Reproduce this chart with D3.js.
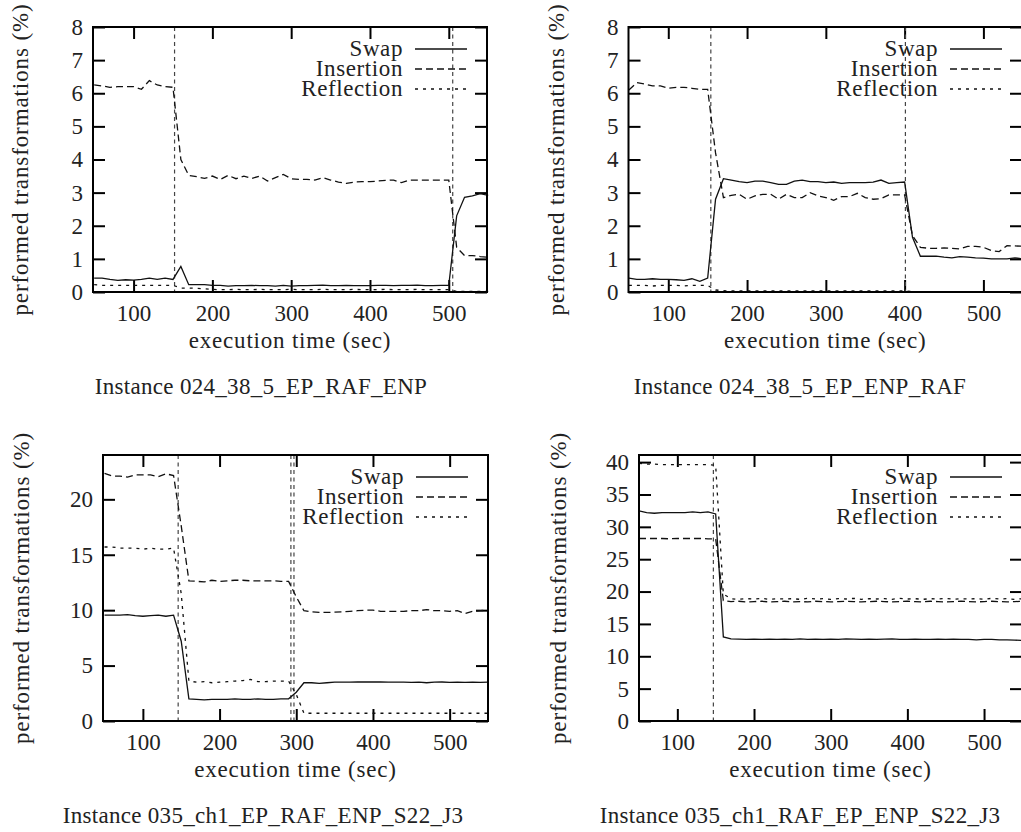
<!DOCTYPE html>
<html>
<head>
<meta charset="utf-8">
<script src="https://cdn.jsdelivr.net/npm/d3@7"></script>
<style>
body{margin:0;background:#fff}
svg{display:block;background:#fff}
</style>
</head>
<body>
<svg id="chart"></svg>
<script>
const width=1021;
const height=832;
const FONT="'Liberation Serif'";

// sample times (sec)
const times=[50,60,70,80,90,100,110,120,130,140,150,160,170,180,190,200,210,220,230,240,250,260,270,280,290,300,310,320,330,340,350,360,370,380,390,400,410,420,430,440,450,460,470,480,490,500,510,520,530,540,550];

const seriesNames=['Swap','Insertion','Reflection'];
const xTicks=[100,200,300,400,500];
const yTicksA=[0,1,2,3,4,5,6,7,8];
const yTicksB=[0,5,10,15,20];
const yTicksC=[0,5,10,15,20,25,30,35,40];
const captions=['Instance 024_38_5_EP_RAF_ENP','Instance 024_38_5_EP_ENP_RAF','Instance 035_ch1_EP_RAF_ENP_S22_J3','Instance 035_ch1_RAF_EP_ENP_S22_J3'];

// phase switches (vertical dashed lines)
const phases1=[152,505];
const phases2=[154,401];
const phases3=[146,293,297];
const phases4=[147];

// instance 024_38_5_EP_RAF_ENP
const swap1=[0.42,0.42,0.38,0.35,0.37,0.36,0.38,0.42,0.38,0.42,0.38,0.77,0.22,0.22,0.22,0.20,0.20,0.18,0.19,0.19,0.20,0.19,0.19,0.18,0.20,0.18,0.19,0.19,0.20,0.21,0.19,0.19,0.20,0.19,0.19,0.19,0.20,0.20,0.19,0.20,0.20,0.21,0.19,0.19,0.20,0.20,2.30,2.86,2.90,2.97,2.92];
const ins1=[6.25,6.22,6.18,6.20,6.20,6.20,6.12,6.38,6.25,6.20,6.18,4.00,3.52,3.48,3.43,3.50,3.40,3.52,3.42,3.50,3.43,3.50,3.35,3.45,3.55,3.42,3.40,3.40,3.38,3.45,3.38,3.32,3.28,3.32,3.33,3.33,3.35,3.37,3.38,3.30,3.38,3.38,3.38,3.38,3.38,3.38,1.35,1.10,1.10,1.07,1.05];
const refl1=[0.22,0.20,0.20,0.20,0.20,0.20,0.20,0.20,0.20,0.20,0.20,0.12,0.12,0.11,0.10,0.08,0.07,0.07,0.08,0.07,0.07,0.08,0.07,0.07,0.07,0.08,0.07,0.07,0.07,0.08,0.07,0.07,0.07,0.08,0.07,0.07,0.07,0.08,0.07,0.07,0.07,0.08,0.07,0.07,0.07,0.07,0.02,0.02,0.02,0.02,0.02];

// instance 024_38_5_EP_ENP_RAF
const swap2=[0.42,0.38,0.38,0.40,0.38,0.38,0.37,0.35,0.40,0.32,0.42,2.80,3.42,3.38,3.33,3.30,3.35,3.35,3.30,3.25,3.25,3.35,3.38,3.33,3.33,3.30,3.32,3.28,3.30,3.30,3.30,3.32,3.38,3.28,3.30,3.32,1.65,1.08,1.08,1.08,1.05,1.03,1.07,1.05,1.03,1.02,1.00,1.00,1.00,1.03,1.00];
const ins2=[6.10,6.32,6.28,6.22,6.22,6.15,6.18,6.18,6.15,6.12,6.12,4.20,2.85,2.92,2.95,2.80,2.90,2.95,2.95,2.80,2.95,2.85,2.85,3.00,2.90,2.85,2.77,2.88,2.88,2.98,2.85,2.80,2.82,2.93,2.93,2.93,1.70,1.35,1.32,1.32,1.33,1.32,1.30,1.38,1.38,1.35,1.25,1.22,1.40,1.39,1.38];
const refl2=[0.20,0.20,0.20,0.18,0.20,0.20,0.20,0.18,0.20,0.20,0.20,0.06,0.04,0.03,0.03,0.03,0.03,0.03,0.03,0.03,0.03,0.03,0.03,0.03,0.03,0.03,0.03,0.03,0.03,0.03,0.03,0.03,0.03,0.03,0.03,0.03,0.01,0.01,0.01,0.01,0.01,0.01,0.01,0.01,0.01,0.01,0.01,0.01,0.01,0.01,0.01];

// instance 035_ch1_EP_RAF_ENP_S22_J3
const swap3=[9.55,9.55,9.55,9.60,9.50,9.45,9.50,9.55,9.45,9.55,7.20,2.00,1.95,1.90,1.95,1.95,1.95,2.00,1.95,1.95,2.00,1.95,1.95,2.00,2.00,2.60,3.45,3.45,3.40,3.45,3.50,3.50,3.50,3.52,3.52,3.52,3.52,3.50,3.50,3.50,3.48,3.50,3.45,3.50,3.52,3.48,3.50,3.48,3.50,3.48,3.50];
const ins3=[22.35,22.10,22.10,22.00,22.20,22.20,22.20,22.05,22.30,22.15,17.60,12.65,12.60,12.55,12.70,12.60,12.65,12.70,12.70,12.65,12.65,12.65,12.65,12.60,12.60,11.20,9.95,9.85,9.80,9.80,9.82,9.85,9.90,9.95,10.00,10.00,9.90,9.90,9.90,9.90,9.95,9.95,10.05,9.95,9.95,9.90,9.95,9.70,9.90,9.95,10.00];
const refl3=[15.70,15.70,15.60,15.60,15.60,15.50,15.60,15.50,15.50,15.60,11.50,3.60,3.50,3.55,3.45,3.50,3.55,3.60,3.65,3.75,3.55,3.55,3.60,3.60,3.60,2.40,0.70,0.70,0.70,0.70,0.70,0.70,0.70,0.70,0.70,0.70,0.70,0.70,0.70,0.70,0.70,0.70,0.70,0.70,0.70,0.70,0.70,0.70,0.70,0.70,0.70];

// instance 035_ch1_RAF_EP_ENP_S22_J3
const swap4=[32.45,32.20,32.10,32.20,32.20,32.20,32.20,32.30,32.20,32.30,32.00,13.00,12.70,12.65,12.60,12.65,12.60,12.65,12.60,12.65,12.60,12.70,12.60,12.65,12.60,12.65,12.60,12.70,12.65,12.60,12.65,12.60,12.65,12.70,12.60,12.60,12.65,12.60,12.60,12.65,12.60,12.65,12.60,12.60,12.55,12.60,12.60,12.55,12.55,12.50,12.45];
const ins4=[28.20,28.20,28.20,28.20,28.15,28.20,28.20,28.20,28.20,28.15,28.15,18.60,18.45,18.50,18.40,18.45,18.50,18.40,18.45,18.50,18.40,18.45,18.40,18.50,18.45,18.40,18.45,18.50,18.45,18.40,18.45,18.50,18.45,18.40,18.45,18.50,18.45,18.40,18.50,18.45,18.40,18.45,18.50,18.45,18.40,18.45,18.50,18.45,18.40,18.45,18.50];
const refl4=[39.80,39.70,39.70,39.60,39.60,39.60,39.60,39.60,39.60,39.60,39.50,19.60,18.90,18.80,18.90,18.85,18.95,18.80,18.90,18.85,18.90,18.80,18.95,18.85,18.90,18.80,18.90,18.85,18.95,18.80,18.90,18.85,18.90,18.80,18.95,18.85,18.90,18.80,18.90,18.85,18.95,18.80,18.90,18.85,18.90,18.80,18.95,18.85,18.90,18.80,18.90];

const dashes=[null,'7,4','3,5'];

const panels=[
  {left:93,right:487,top:27,bottom:292,xDomain:[48.5,548.5],yMax:8,yTicks:yTicksA,series:[swap1,ins1,refl1],phases:phases1,caption:captions[0],capX:261,ylabX:28},
  {left:628.5,right:1022,top:27,bottom:292,xDomain:[49.5,549],yMax:8,yTicks:yTicksA,series:[swap2,ins2,refl2],phases:phases2,caption:captions[1],capX:800,ylabX:564},
  {left:103,right:488,top:455,bottom:721,xDomain:[48,550],yMax:24,yTicks:yTicksB,series:[swap3,ins3,refl3],phases:phases3,caption:captions[2],capX:263,ylabX:29},
  {left:639,right:1022,top:455,bottom:721,xDomain:[50,549.5],yMax:41.1,yTicks:yTicksC,series:[swap4,ins4,refl4],phases:phases4,caption:captions[3],capX:800,ylabX:566}
];

const svg=d3.select('#chart')
  .attr('width',width)
  .attr('height',height);

svg.append('rect').attr('width',width).attr('height',height).attr('fill','#fff');

function label(sel){
  return sel.style('font-family',FONT).style('font-size','23px').attr('fill','#222');
}

function drawPanel(p){
  const g=svg.append('g');
  const x=d3.scaleLinear().domain(p.xDomain).range([p.left,p.right]);
  const y=d3.scaleLinear().domain([0,p.yMax]).range([p.bottom,p.top]);

  // axes, ticks pointing inward, mirrored on top/right
  const bottomAxis=g.append('g').attr('transform','translate(0,'+p.bottom+')')
    .call(d3.axisBottom(x).tickValues(xTicks).tickSize(-12).tickSizeOuter(0).tickPadding(13));
  const topAxis=g.append('g').attr('transform','translate(0,'+p.top+')')
    .call(d3.axisTop(x).tickValues(xTicks).tickSize(-12).tickSizeOuter(0).tickFormat(''));
  const leftAxis=g.append('g').attr('transform','translate('+p.left+',0)')
    .call(d3.axisLeft(y).tickValues(p.yTicks).tickSize(-12).tickSizeOuter(0).tickPadding(10));
  const rightAxis=g.append('g').attr('transform','translate('+p.right+',0)')
    .call(d3.axisRight(y).tickValues(p.yTicks).tickSize(-12).tickSizeOuter(0).tickFormat(''));

  [bottomAxis,topAxis,leftAxis,rightAxis].forEach(a=>{
    a.select('.domain').remove();
    a.selectAll('line').attr('stroke','#000').attr('stroke-width',2);
    label(a.selectAll('text'));
  });

  // phase switches
  g.selectAll('.phase').data(p.phases).enter().append('line')
    .attr('class','phase')
    .attr('x1',d=>x(d)).attr('x2',d=>x(d))
    .attr('y1',p.top).attr('y2',p.bottom)
    .attr('stroke','#444').attr('stroke-width',1.2)
    .attr('stroke-dasharray','4,3.5');

  const line=d3.line().x((d,i)=>x(times[i])).y(d=>y(d));

  p.series.forEach((vals,k)=>{
    g.append('path').datum(vals)
      .attr('d',line)
      .attr('fill','none')
      .attr('stroke','#111')
      .attr('stroke-width',1.3)
      .attr('stroke-dasharray',dashes[k]);
  });

  // legend
  const leg=g.selectAll('.leg').data(seriesNames).enter().append('g')
    .attr('class','leg')
    .attr('transform',(d,i)=>'translate(0,'+(p.top+22+i*20)+')');
  label(leg.append('text'))
    .attr('x',p.right-84).attr('y',7)
    .attr('text-anchor','end')
    .style('letter-spacing','0.6px')
    .text(d=>d);
  leg.append('line')
    .attr('x1',p.right-72).attr('x2',p.right-20)
    .attr('stroke','#111').attr('stroke-width',1.3)
    .attr('stroke-dasharray',(d,i)=>dashes[i]);

  // frame
  g.append('rect')
    .attr('x',p.left).attr('y',p.top)
    .attr('width',p.right-p.left).attr('height',p.bottom-p.top)
    .attr('fill','none').attr('stroke','#000').attr('stroke-width',2);

  // axis titles
  label(g.append('text'))
    .attr('x',(p.left+p.right)/2).attr('y',p.bottom+56)
    .attr('text-anchor','middle')
    .style('letter-spacing','0.8px')
    .text('execution time (sec)');
  label(g.append('text'))
    .attr('transform','translate('+p.ylabX+','+((p.top+p.bottom)/2)+') rotate(-90)')
    .attr('text-anchor','middle')
    .style('letter-spacing','0.9px')
    .text('performed transformations (%)');

  label(g.append('text'))
    .attr('x',p.capX).attr('y',p.bottom+102)
    .attr('text-anchor','middle')
    .style('letter-spacing','0.3px')
    .text(p.caption);
}

panels.forEach(drawPanel);
</script>
</body>
</html>
